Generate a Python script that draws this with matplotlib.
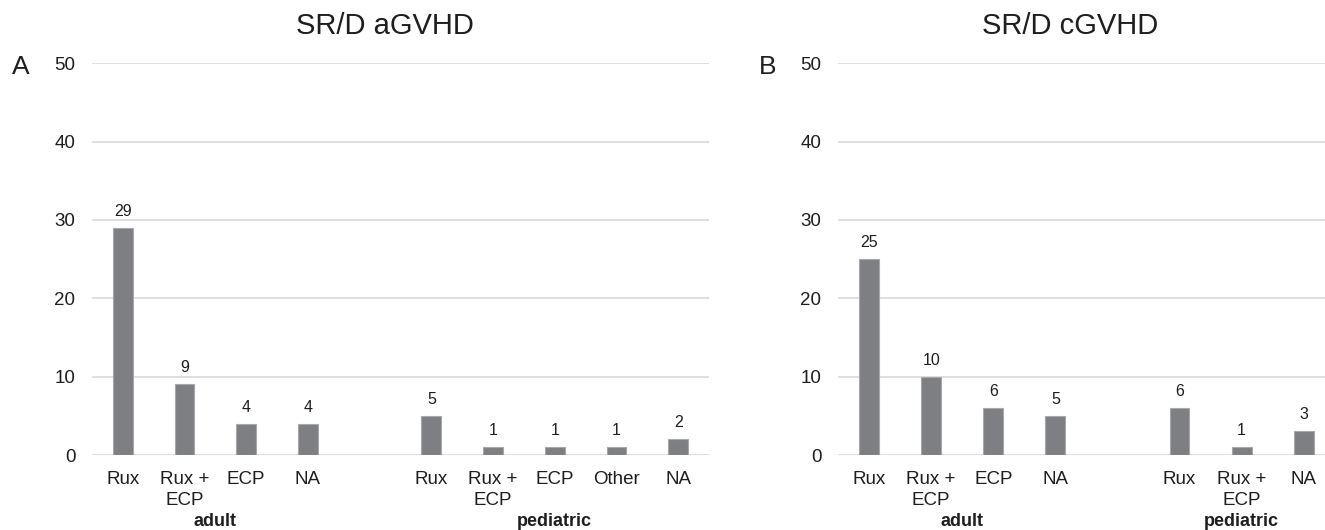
import matplotlib
matplotlib.use("Agg")
import matplotlib.pyplot as plt
import matplotlib.transforms as mtransforms

plt.rcParams['font.family'] = ['Liberation Sans', 'DejaVu Sans']

# data
a_adult_labels = ['Rux', 'Rux +\nECP', 'ECP', 'NA']
a_adult_values = [29, 9, 4, 4]
a_ped_labels = ['Rux', 'Rux +\nECP', 'ECP', 'Other', 'NA']
a_ped_values = [5, 1, 1, 1, 2]

c_adult_labels = ['Rux', 'Rux +\nECP', 'ECP', 'NA']
c_adult_values = [25, 10, 6, 5]
c_ped_labels = ['Rux', 'Rux +\nECP', 'NA']
c_ped_values = [6, 1, 3]

group_names = ['adult', 'pediatric']
yticks = [0, 10, 20, 30, 40, 50]

BAR = '#7e7f83'
GRID = '#d9d9d9'
TXT = '#1e1e1e'
W, H = 1325, 530

fig = plt.figure(figsize=(W / 100, H / 100), dpi=100)


def panel(rect, xmax, adult_labels, adult_values, ped_labels, ped_values, title, title_x, letter, letter_x):
    ax = fig.add_axes(rect)
    # adult bars at 0..n-1, one empty slot, then pediatric
    xa = list(range(len(adult_values)))
    xp = [len(adult_values) + 1 + i for i in range(len(ped_values))]
    bars = ax.bar(xa + xp, adult_values + ped_values, width=0.32, color=BAR,
                  edgecolor='#a7a8ab', linewidth=0.8, zorder=3)
    ax.bar_label(bars, padding=6.5, fontsize=11.5, color=TXT)
    ax.set_xlim(-0.5, xmax)
    ax.set_ylim(0, 50)
    ax.set_yticks(yticks)
    ax.set_xticks(xa + xp)
    ax.set_xticklabels(adult_labels + ped_labels, fontsize=13.5, linespacing=1.3, color=TXT)
    ax.tick_params(axis='y', labelsize=13.5, colors=TXT, length=0, pad=12)
    ax.tick_params(axis='x', length=0, pad=11.5)
    ax.grid(axis='y', color=GRID, linewidth=1.2, zorder=0)
    for s in ax.spines.values():
        s.set_visible(False)
    trans = mtransforms.blended_transform_factory(ax.transData, fig.transFigure)
    ax.text((xa[0] + xa[-1]) / 2, 1 - 522 / H, group_names[0], transform=trans,
            ha='center', va='center', fontsize=13, fontweight='bold', color=TXT)
    ax.text((xp[0] + xp[-1]) / 2, 1 - 522 / H, group_names[1], transform=trans,
            ha='center', va='center', fontsize=13, fontweight='bold', color=TXT)
    fig.text(title_x / W, 1 - 26 / H, title, ha='center', va='center', fontsize=21, color=TXT)
    fig.text(letter_x / W, 1 - 67 / H, letter, ha='center', va='center', fontsize=19, color=TXT)
    return ax


bottom = (H - 455) / H
height = (455 - 63.3) / H
panel([92 / W, bottom, 617 / W, height], 9.5,
      a_adult_labels, a_adult_values, a_ped_labels, a_ped_values,
      'SR/D aGVHD', 385, 'A', 20.5)
panel([838 / W, bottom, 487 / W, height], -0.5 + 487 / 62.1,
      c_adult_labels, c_adult_values, c_ped_labels, c_ped_values,
      'SR/D cGVHD', 1070, 'B', 768)

fig.savefig('out.png', dpi=100)
